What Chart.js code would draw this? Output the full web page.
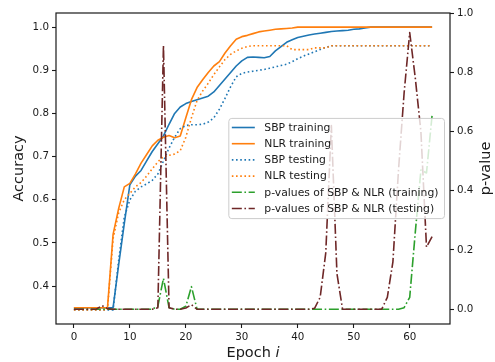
<!DOCTYPE html>
<html lang="en">
<head>
<meta charset="UTF-8">
<title>Accuracy and p-values per epoch</title>
<script src="https://cdn.jsdelivr.net/npm/chart.js@4.4.0/dist/chart.umd.min.js"></script>
<style>
  html, body { margin: 0; padding: 0; background: #fff; }
  #wrap { width: 495px; height: 362px; }
</style>
</head>
<body>
<div id="wrap"><canvas id="myChart"></canvas></div>
<script>
// ---- data ----
const epochs = [0, 1, 2, 3, 4, 5, 6, 7, 8, 9, 10, 11, 12, 13, 14, 15, 16, 17, 18, 19,
  20, 21, 22, 23, 24, 25, 26, 27, 28, 29, 30, 31, 32, 33, 34, 35, 36, 37, 38, 39,
  40, 41, 42, 43, 44, 45, 46, 47, 48, 49, 50, 51, 52, 53, 54, 55, 56, 57, 58, 59,
  60, 61, 62, 63, 64];

const sbpTrain = [0.35, 0.35, 0.35, 0.35, 0.35, 0.35, 0.35, 0.35, 0.45, 0.545,
  0.635, 0.655, 0.668, 0.69, 0.712, 0.73, 0.748, 0.775, 0.80, 0.815,
  0.823, 0.828, 0.832, 0.836, 0.84, 0.85, 0.865, 0.88, 0.895, 0.91,
  0.922, 0.93, 0.931, 0.93, 0.929, 0.932, 0.945, 0.955, 0.965, 0.971,
  0.976, 0.979, 0.982, 0.984, 0.986, 0.988, 0.99, 0.991, 0.992, 0.993,
  0.995, 0.996, 0.998, 1.0, 1.0, 1.0, 1.0, 1.0, 1.0, 1.0,
  1.0, 1.0, 1.0, 1.0, 1.0];

const nlrTrain = [0.35, 0.35, 0.35, 0.35, 0.35, 0.35, 0.35, 0.52, 0.58, 0.63,
  0.638, 0.66, 0.685, 0.705, 0.725, 0.738, 0.745, 0.749, 0.744, 0.748,
  0.79, 0.832, 0.86, 0.878, 0.895, 0.91, 0.92, 0.94, 0.957, 0.972,
  0.978, 0.981, 0.985, 0.989, 0.991, 0.993, 0.995, 0.996, 0.997, 0.998,
  1.0, 1.0, 1.0, 1.0, 1.0, 1.0, 1.0, 1.0, 1.0, 1.0,
  1.0, 1.0, 1.0, 1.0, 1.0, 1.0, 1.0, 1.0, 1.0, 1.0,
  1.0, 1.0, 1.0, 1.0, 1.0];

const sbpTest = [0.345, 0.345, 0.345, 0.345, 0.345, 0.345, 0.345, 0.345, 0.46, 0.56,
  0.60, 0.62, 0.63, 0.637, 0.645, 0.66, 0.69, 0.72, 0.745, 0.765,
  0.772, 0.774, 0.774, 0.775, 0.78, 0.79, 0.81, 0.835, 0.862, 0.885,
  0.893, 0.896, 0.898, 0.90, 0.902, 0.905, 0.908, 0.911, 0.914, 0.92,
  0.927, 0.933, 0.938, 0.943, 0.948, 0.953, 0.957, 0.957, 0.957, 0.957,
  0.957, 0.957, 0.957, 0.957, 0.957, 0.957, 0.957, 0.957, 0.957, 0.957,
  0.957, 0.957, 0.957, 0.957, 0.957];

const nlrTest = [0.345, 0.345, 0.345, 0.345, 0.345, 0.345, 0.345, 0.51, 0.57, 0.60,
  0.615, 0.63, 0.64, 0.655, 0.672, 0.688, 0.70, 0.703, 0.706, 0.714,
  0.745, 0.79, 0.83, 0.852, 0.87, 0.89, 0.908, 0.925, 0.937, 0.945,
  0.951, 0.955, 0.957, 0.957, 0.957, 0.957, 0.957, 0.957, 0.957, 0.948,
  0.948, 0.948, 0.948, 0.952, 0.952, 0.952, 0.957, 0.957, 0.957, 0.957,
  0.957, 0.957, 0.957, 0.957, 0.957, 0.957, 0.957, 0.957, 0.957, 0.957,
  0.957, 0.957, 0.957, 0.957, 0.957];

const pTrain = [0, 0, 0, 0, 0, 0, 0, 0, 0, 0,
  0, 0, 0, 0, 0, 0.01, 0.104, 0.005, 0, 0,
  0.01, 0.076, 0, 0, 0, 0, 0, 0, 0, 0,
  0, 0, 0, 0, 0, 0, 0, 0, 0, 0,
  0, 0, 0, 0, 0, 0, 0, 0, 0, 0,
  0, 0, 0, 0, 0, 0, 0, 0, 0, 0.005,
  0.04, 0.26, 0.47, 0.46, 0.655];

const pTest = [0, 0, 0, 0, 0, 0.012, 0.002, 0, 0, 0,
  0, 0, 0, 0, 0, 0.005, 0.89, 0.005, 0, 0,
  0.004, 0.015, 0, 0, 0, 0, 0, 0, 0, 0,
  0, 0, 0, 0, 0, 0, 0, 0, 0, 0,
  0, 0, 0, 0.003, 0.04, 0.19, 0.62, 0.12, 0, 0,
  0, 0, 0, 0, 0, 0, 0.04, 0.16, 0.47, 0.73,
  0.934, 0.78, 0.6, 0.21, 0.245];

const epochTicks = [0, 10, 20, 30, 40, 50, 60];
const accTicks = [0.4, 0.5, 0.6, 0.7, 0.8, 0.9, 1.0];
const pTicks = [0.0, 0.2, 0.4, 0.6, 0.8, 1.0];

// ---- styling ----
const FONT = "'DejaVu Sans', sans-serif";
const INK = '#1a1a1a';
const DOT = [1.6, 2.6];
const DASHDOT = [10, 2.6, 1.6, 2.6];

function pairs(values) {
  return values.map((v, i) => ({ x: epochs[i], y: v }));
}

// spines, legend (on top of the lines, like matplotlib) and axis titles
const frame_and_legend = {
  id: 'frame_and_legend',
  afterDatasetsDraw(chart) {
    const ctx = chart.ctx;
    const a = chart.chartArea;
    ctx.save();

    ctx.strokeStyle = INK;
    ctx.lineWidth = 1.2;
    ctx.setLineDash([]);
    ctx.strokeRect(a.left, a.top, a.right - a.left, a.bottom - a.top);

    const sets = chart.data.datasets;
    ctx.font = '10.8px ' + FONT;
    const rowH = 16.2, padL = 3, handleLen = 23, gap = 9.5, padR = 6;
    const textW = Math.max(...sets.map(d => ctx.measureText(d.label).width));
    const boxW = padL + handleLen + gap + textW + padR;
    const boxH = rowH * sets.length + 3;
    const boxRight = a.right - 5.5;
    const boxLeft = boxRight - boxW;
    const boxTop = (a.top + a.bottom) / 2 - boxH / 2;

    ctx.beginPath();
    ctx.roundRect(boxLeft, boxTop, boxW, boxH, 3);
    ctx.fillStyle = 'rgba(255,255,255,0.8)';
    ctx.fill();
    ctx.strokeStyle = '#cccccc';
    ctx.lineWidth = 1;
    ctx.stroke();

    sets.forEach((d, i) => {
      const y = boxTop + 1 + rowH / 2 + i * rowH;
      ctx.beginPath();
      ctx.setLineDash(d.borderDash || []);
      ctx.strokeStyle = d.borderColor;
      ctx.lineWidth = 1.6;
      ctx.lineCap = 'butt';
      ctx.moveTo(boxLeft + padL, y);
      ctx.lineTo(boxLeft + padL + handleLen, y);
      ctx.stroke();
      ctx.setLineDash([]);
      ctx.fillStyle = INK;
      ctx.textBaseline = 'middle';
      ctx.textAlign = 'left';
      ctx.fillText(d.label, boxLeft + padL + handleLen + gap, y + 0.5);
    });
    ctx.restore();
  },
  afterDraw(chart) {
    const ctx = chart.ctx;
    const a = chart.chartArea;
    const midY = (a.top + a.bottom) / 2;
    ctx.save();
    ctx.fillStyle = INK;
    ctx.font = '14.5px ' + FONT;
    ctx.textBaseline = 'middle';
    ctx.textAlign = 'center';

    // left title
    ctx.save();
    ctx.translate(19.5, midY);
    ctx.rotate(-Math.PI / 2);
    ctx.fillText('Accuracy', 0, 0);
    ctx.restore();

    // right title (reads bottom to top as well)
    ctx.save();
    ctx.translate(486, midY);
    ctx.rotate(-Math.PI / 2);
    ctx.fillText('p-value', 0, 0);
    ctx.restore();

    // bottom title with italic i
    ctx.textBaseline = 'alphabetic';
    ctx.textAlign = 'left';
    const part1 = 'Epoch ';
    const w1 = ctx.measureText(part1).width;
    ctx.font = 'italic 14.5px ' + FONT;
    const w2 = ctx.measureText('i').width;
    const x0 = (a.left + a.right) / 2 - (w1 + w2) / 2;
    ctx.font = '14.5px ' + FONT;
    ctx.fillText(part1, x0, 357);
    ctx.font = 'italic 14.5px ' + FONT;
    ctx.fillText('i', x0 + w1, 357);
    ctx.restore();
  }
};

const tickFont = { family: FONT, size: 10.3 };
const gridOpts = {
  drawOnChartArea: false, drawTicks: true, tickLength: 4,
  tickColor: INK, tickWidth: 1.1
};

var ctx = document.getElementById('myChart');
var myChart = new Chart(ctx, {
  type: 'line',
  data: {
    datasets: [
      { label: 'SBP training', data: pairs(sbpTrain), borderColor: '#1f77b4', yAxisID: 'y', order: 6 },
      { label: 'NLR training', data: pairs(nlrTrain), borderColor: '#ff7f0e', yAxisID: 'y', order: 5 },
      { label: 'SBP testing', data: pairs(sbpTest), borderColor: '#1f77b4', borderDash: DOT, yAxisID: 'y', order: 4 },
      { label: 'NLR testing', data: pairs(nlrTest), borderColor: '#ff7f0e', borderDash: DOT, yAxisID: 'y', order: 3 },
      { label: 'p-values of SBP & NLR (training)', data: pairs(pTrain), borderColor: '#2ca02c', borderDash: DASHDOT, yAxisID: 'p', order: 2 },
      { label: 'p-values of SBP & NLR (testing)', data: pairs(pTest), borderColor: '#6e2727', borderDash: DASHDOT, yAxisID: 'p', order: 1 }
    ]
  },
  options: {
    responsive: true,
    maintainAspectRatio: false,
    animation: false,
    layout: { padding: { top: 13, left: 0, right: 0, bottom: 0 }, autoPadding: false },
    plugins: { legend: { display: false }, tooltip: { enabled: false } },
    elements: {
      point: { radius: 0, hoverRadius: 0 },
      line: { borderWidth: 1.6, tension: 0, borderCapStyle: 'butt', borderJoinStyle: 'round', fill: false }
    },
    scales: {
      x: {
        type: 'linear', min: -3.2, max: 67.2,
        afterBuildTicks: s => { s.ticks = epochTicks.map(v => ({ value: v })); },
        afterFit: s => { s.height = 38; },
        grid: gridOpts,
        border: { display: false },
        ticks: { font: tickFont, color: INK, padding: 3, maxRotation: 0, callback: v => String(v) }
      },
      y: {
        position: 'left', min: 0.3123, max: 1.0328,
        afterBuildTicks: s => { s.ticks = accTicks.map(v => ({ value: v })); },
        afterFit: s => { s.width = 56; },
        grid: gridOpts,
        border: { display: false },
        ticks: { font: tickFont, color: INK, padding: 3, callback: v => v.toFixed(1) }
      },
      p: {
        position: 'right', min: -0.05, max: 1.0,
        afterBuildTicks: s => { s.ticks = pTicks.map(v => ({ value: v })); },
        afterFit: s => { s.width = 45; },
        grid: gridOpts,
        border: { display: false },
        ticks: { font: tickFont, color: INK, padding: 3, callback: v => v.toFixed(1) }
      }
    }
  },
  plugins: [frame_and_legend]
});
</script>
</body>
</html>
